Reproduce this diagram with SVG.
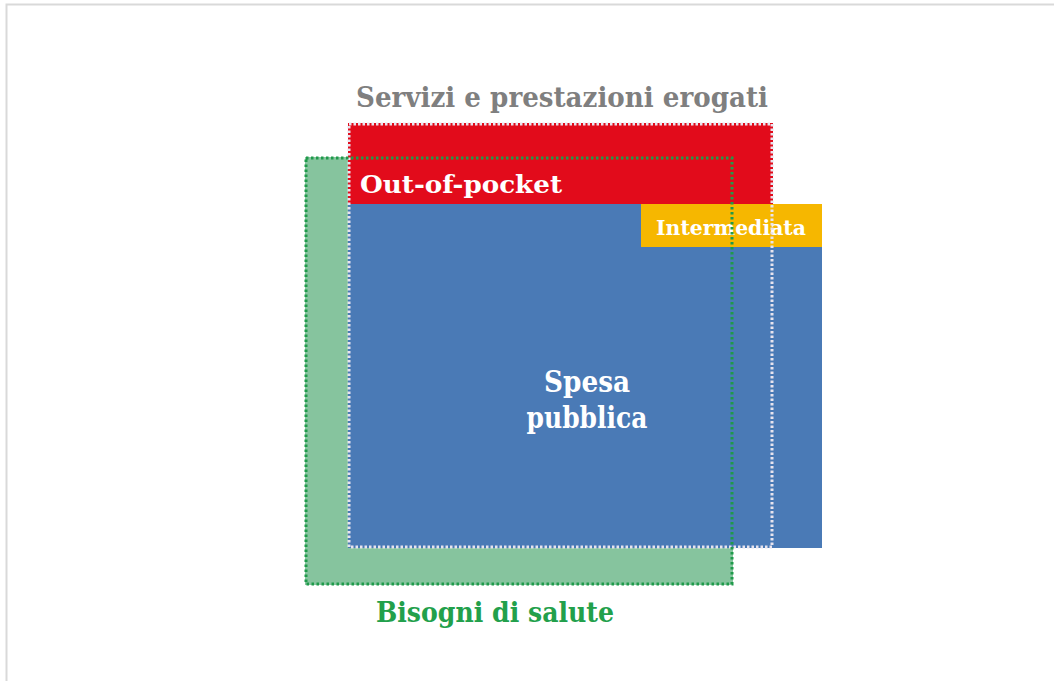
<svg xmlns="http://www.w3.org/2000/svg" width="1054" height="681" viewBox="0 0 1054 681">
<style>
.t{font-family:"DejaVu Serif","Liberation Serif",serif;font-weight:bold}
.w{fill:#ffffff}
</style>
<rect width="1054" height="681" fill="#ffffff"/>
<rect x="6.5" y="4.5" width="1060" height="700" fill="none" stroke="#d9d9d9" stroke-width="2"/>
<g id="bisogni-fill">
<rect x="305" y="157" width="428" height="428" fill="#86c49e"/>
</g>
<g id="out-of-pocket">
<rect x="348" y="123" width="425" height="81" fill="#e20b1b"/>
<text class="t w" x="360" y="193" font-size="25" textLength="202" lengthAdjust="spacingAndGlyphs">Out-of-pocket</text>
</g>
<g id="spesa-pubblica">
<rect x="348" y="204" width="474" height="344" fill="#4a7ab6"/>
<text class="t w" x="587" y="392" font-size="29" text-anchor="middle" textLength="86" lengthAdjust="spacingAndGlyphs">Spesa</text>
<text class="t w" x="587" y="428" font-size="29" text-anchor="middle" textLength="121" lengthAdjust="spacingAndGlyphs">pubblica</text>
</g>
<g id="intermediata">
<rect x="641" y="204" width="181" height="43" fill="#f6b700"/>
<text class="t w" x="656" y="235" font-size="21" textLength="150" lengthAdjust="spacingAndGlyphs">Intermediata</text>
</g>
<g id="servizi">
<rect x="349" y="124" width="423" height="423" fill="none" stroke="#e8e4ee" stroke-width="3" stroke-dasharray="2.5 2"/>
<text class="t" x="562" y="107" font-size="27" fill="#7f7f7f" text-anchor="middle" textLength="412" lengthAdjust="spacingAndGlyphs">Servizi e prestazioni erogati</text>
</g>
<g id="bisogni">
<rect x="306" y="158" width="426" height="426" fill="none" stroke="#1f9a4a" stroke-width="3" stroke-dasharray="2.5 2.5"/>
<text class="t" x="495" y="622" font-size="27" fill="#22a04b" text-anchor="middle" textLength="238" lengthAdjust="spacingAndGlyphs">Bisogni di salute</text>
</g>
<g id="connectors"/>
</svg>
